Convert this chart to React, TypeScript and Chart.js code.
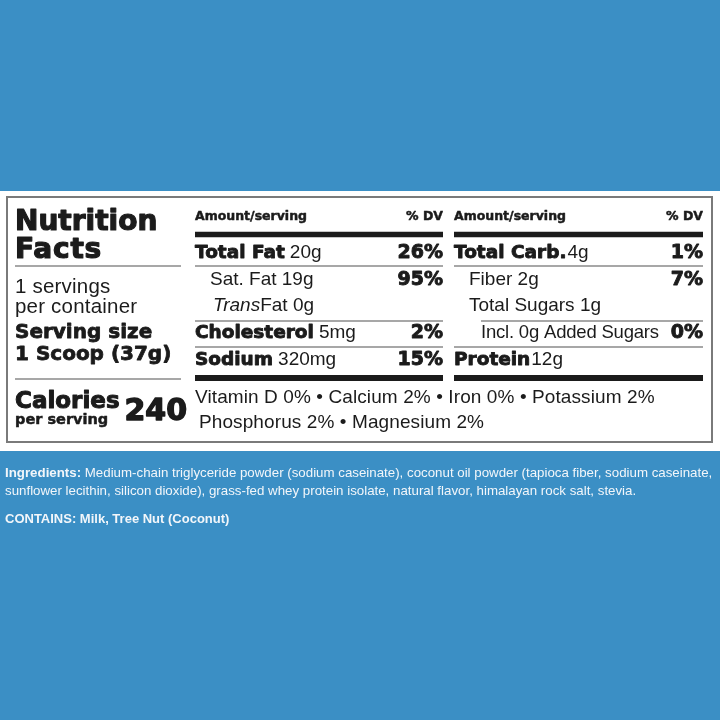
import React, { useEffect, useRef } from 'react';
import { Chart, registerables } from 'chart.js';

Chart.register(...registerables);

// ---------- data ----------
const titleLines = ['Nutrition', 'Facts'];
const servingLines = ['1 servings', 'per container'];
const servingSizeLines = ['Serving size', '1 Scoop (37g)'];
const caloriesLabel = ['Calories', 'per serving'];
const caloriesValue = '240';
const headerLabels = ['Amount/serving', '% DV'];

const leftLabels = ['Total Fat', 'Sat. Fat', 'Trans', 'Cholesterol', 'Sodium'];
const leftAmounts = ['20g', '19g', 'Fat 0g', '5mg', '320mg'];
const leftDV = ['26%', '95%', '', '2%', '15%'];

const rightLabels = ['Total Carb.', 'Fiber', 'Total Sugars', 'Incl. 0g Added Sugars', 'Protein'];
const rightAmounts = ['4g', '2g', '1g', '', '12g'];
const rightDV = ['1%', '7%', '', '0%', ''];

const vitaminNames = ['Vitamin D', 'Calcium', 'Iron', 'Potassium', 'Phosphorus', 'Magnesium'];
const vitaminDV = ['0%', '2%', '0%', '2%', '2%', '2%'];

const ingredientsLabel = 'Ingredients:';
const ingredientsLines = [
  ' Medium-chain triglyceride powder (sodium caseinate), coconut oil powder (tapioca fiber, sodium caseinate,',
  'sunflower lecithin, silicon dioxide), grass-fed whey protein isolate, natural flavor, himalayan rock salt, stevia.',
];
const containsText = 'CONTAINS: Milk, Tree Nut (Coconut)';

// ---------- style ----------
const BLUE = '#3b8fc5';
const INK = '#1b1b1b';
const BOLD = "'DejaVu Sans', sans-serif";
const REG = "'Liberation Sans', Arial, sans-serif";
const leftKinds = ['bold', 'sub', 'trans', 'bold', 'bold'];
const rightKinds = ['boldTight', 'sub', 'sub', 'subsub', 'boldTight'];

const labelPlugin = {
  id: 'nutritionLabel',
  beforeDraw(chart: any) {
    const ctx: CanvasRenderingContext2D = chart.ctx;
    const xs = chart.scales.x;
    const ys = chart.scales.y;
    const X = (v: number) => xs.getPixelForValue(v);
    const Y = (v: number) => ys.getPixelForValue(v);

    const setSpacing = (s: string) => {
      (ctx as any).letterSpacing = s;
    };
    const text = (
      t: string, x: number, y: number, font: string, color = INK,
      align: CanvasTextAlign = 'left', spacing = '0px', heavy = 0, maxW?: number,
    ) => {
      ctx.font = font;
      ctx.fillStyle = color;
      ctx.textAlign = align;
      ctx.textBaseline = 'alphabetic';
      setSpacing(spacing);
      if (maxW) ctx.fillText(t, X(x), Y(y), maxW);
      else ctx.fillText(t, X(x), Y(y));
      if (heavy > 0) {
        ctx.strokeStyle = color;
        ctx.lineWidth = heavy;
        ctx.lineJoin = 'round';
        ctx.strokeText(t, X(x), Y(y));
      }
      const w = ctx.measureText(t).width;
      setSpacing('0px');
      return w;
    };
    const hline = (x0: number, x1: number, y: number, w: number, color = '#8a8a8a') => {
      ctx.fillStyle = color;
      ctx.fillRect(X(x0), Y(y) - w / 2, X(x1) - X(x0), w);
    };

    ctx.save();
    // background
    ctx.fillStyle = BLUE;
    ctx.fillRect(X(0), Y(0), X(720) - X(0), Y(720) - Y(0));
    ctx.fillStyle = '#ffffff';
    ctx.fillRect(X(0), Y(191), X(720) - X(0), Y(451) - Y(191));
    ctx.strokeStyle = '#7a7a7a';
    ctx.lineWidth = 2;
    ctx.strokeRect(X(7), Y(197), X(712) - X(7), Y(442) - Y(197));

    // left column
    text(titleLines[0], 15, 230, `bold 28px ${BOLD}`, INK, 'left', '0px', 1.2);
    text(titleLines[1], 15, 258, `bold 28px ${BOLD}`, INK, 'left', '0.8px', 1.2);
    hline(15, 181, 266, 1.5);
    text(servingLines[0], 15, 293, `20.5px ${REG}`, INK, 'left', '0.2px');
    text(servingLines[1], 15, 313, `20.5px ${REG}`, INK, 'left', '0.2px');
    text(servingSizeLines[0], 15, 338, `bold 20px ${BOLD}`, INK, 'left', '0px', 0.8);
    text(servingSizeLines[1], 15, 360, `bold 20px ${BOLD}`, INK, 'left', '0px', 0.8);
    hline(15, 181, 379, 1.5);
    text(caloriesLabel[0], 15, 408, `bold 23px ${BOLD}`, INK, 'left', '0px', 1);
    text(caloriesLabel[1], 15, 424, `bold 14.5px ${BOLD}`, INK, 'left', '0px', 0.5);
    text(caloriesValue, 187, 420, `bold 30px ${BOLD}`, INK, 'right', '0px', 1.4);

    const rowY = [258, 285, 311, 338, 365];

    const drawColumn = (
      labels: string[], amounts: string[], dvs: string[], kinds: string[],
      x0: number, x1: number,
    ) => {
      text(headerLabels[0], x0, 220, `bold 12.5px ${BOLD}`, INK, 'left', '0px', 0.5);
      text(headerLabels[1], x1, 220, `bold 12.5px ${BOLD}`, INK, 'right', '0px', 0.5);
      hline(x0, x1, 234.5, 5.5, INK);
      labels.forEach((lab, i) => {
        const y = rowY[i];
        const k = kinds[i];
        if (k === 'bold' || k === 'boldTight') {
          const w = text(lab, x0, y, `bold 18.5px ${BOLD}`, INK, 'left', '0px', 0.9);
          if (amounts[i]) text(amounts[i], x0 + w + (k === 'bold' ? 5 : 1), y, `19px ${REG}`, INK, 'left', '0px');
        } else if (k === 'sub') {
          text(lab + ' ' + amounts[i], x0 + 15, y, `19px ${REG}`, INK, 'left', '0px');
        } else if (k === 'subsub') {
          text(lab + (amounts[i] ? ' ' + amounts[i] : ''), x0 + 27, y, `18.5px ${REG}`, INK, 'left', '-0.2px');
        } else if (k === 'trans') {
          const w = text(lab, x0 + 18, y, `italic 19px ${REG}`, INK, 'left', '0px');
          text(amounts[i], x0 + 18 + w, y, `19px ${REG}`, INK, 'left', '0px');
        }
        if (dvs[i]) text(dvs[i], x1, y, `bold 19px ${BOLD}`, INK, 'right', '0px', 0.9);
      });
      hline(x0, x1, 378, 6, INK);
    };

    drawColumn(leftLabels, leftAmounts, leftDV, leftKinds, 195, 443);
    hline(195, 443, 266, 1.5);
    hline(195, 443, 321, 1.5);
    hline(195, 443, 347, 1.5);

    drawColumn(rightLabels, rightAmounts, rightDV, rightKinds, 454, 703);
    hline(454, 703, 266, 1.5);
    hline(481, 703, 321, 1.5);
    hline(454, 703, 347, 1.5);

    // vitamins
    const vit = vitaminNames.map((n, i) => `${n} ${vitaminDV[i]}`);
    text(vit.slice(0, 4).join(' \u2022 '), 195, 403, `19px ${REG}`, INK, 'left', '0.1px');
    text(vit.slice(4).join(' \u2022 '), 199, 428, `19px ${REG}`, INK, 'left', '0.1px');

    // ingredients
    const light = '#f2f6fa';
    const wLab = text(ingredientsLabel, 5, 477, `bold 13.3px ${REG}`, light);
    text(ingredientsLines[0], 5 + wLab, 477, `13.3px ${REG}`, light, 'left', '0px', 0, 711 - wLab);
    text(ingredientsLines[1], 5, 495, `13.3px ${REG}`, light, 'left', '0px', 0, 632);
    text(containsText, 5, 523, `bold 13px ${REG}`, light);

    ctx.restore();
  },
};

export default function App() {
  const ref = useRef<HTMLCanvasElement | null>(null);
  useEffect(() => {
    if (!ref.current) return;
    const chart = new Chart(ref.current, {
      type: 'scatter',
      data: { datasets: [] },
      options: {
        animation: false,
        responsive: false,
        devicePixelRatio: 1,
        layout: { padding: 0 },
        plugins: { legend: { display: false }, tooltip: { enabled: false } },
        scales: {
          x: { type: 'linear', min: 0, max: 720, display: false },
          y: { type: 'linear', min: 0, max: 720, reverse: true, display: false },
        },
      },
      plugins: [labelPlugin],
    } as any);
    return () => chart.destroy();
  }, []);
  return (
    <canvas
      ref={ref}
      width={720}
      height={720}
      style={{ position: 'absolute', left: 0, top: 0, width: 720, height: 720, display: 'block' }}
    />
  );
}
